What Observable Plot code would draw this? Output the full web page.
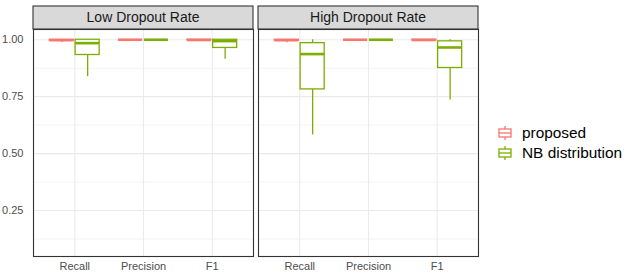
<!DOCTYPE html>
<html><head><meta charset="utf-8">
<script src="https://cdn.jsdelivr.net/npm/d3@7"></script>
<script src="https://cdn.jsdelivr.net/npm/@observablehq/plot@0.6"></script>
<style>
body{margin:0;background:#fff;font-family:"Liberation Sans",Arial,sans-serif;}
#wrap{position:relative;width:634px;height:278px;overflow:hidden;}
.leg{position:absolute;left:498px;height:18px;line-height:18px;display:flex;align-items:center;font-size:15.4px;color:#000;white-space:nowrap;}
.leg svg{margin-right:10px;}
</style></head><body><div id="wrap"></div>
<script>
const facets = ["Low Dropout Rate", "High Dropout Rate"];
const metrics = ["Recall", "Precision", "F1"];
const methods = ["proposed", "NB distribution"];
const colors = ["#F8766D", "#7CAE00"];
const yTicks = [0.25, 0.5, 0.75, 1.0];
const yMinor = [0.125, 0.375, 0.625, 0.875];
// order: facet x metric x method
const whiskerLow  = [0.988, 0.838, 1, 1, 0.996, 0.914,   0.987, 0.582, 1, 1, 0.995, 0.735];
const q1          = [0.996, 0.933, 1, 1, 0.998, 0.964,   0.996, 0.782, 1, 1, 0.997, 0.876];
const median      = [0.998, 0.985, 1, 1, 0.999, 0.994,   0.998, 0.937, 1, 1, 0.999, 0.966];
const q3          = [1.0,   1.0,   1, 1, 1.0,   1.0,     1.0,   0.985, 1, 1, 1.0,   0.993];
const whiskerHigh = [1.0,   1.0,   1, 1, 1.0,   1.0,     1.0,   1.0,   1, 1, 1.0,   1.0];

const rows = [];
let k = 0;
for (const f of facets) {
  metrics.forEach((m, i) => {
    methods.forEach((g, j) => {
      rows.push({facet: f, metric: m, method: g, pos: i + 1 + (j === 0 ? -0.1875 : 0.1875),
        lo: whiskerLow[k], q1: q1[k], med: median[k], q3: q3[k], hi: whiskerHigh[k]});
      k++;
    });
  });
}
const hw = 0.175;

const chart = Plot.plot({
  width: 634, height: 278,
  marginLeft: 33, marginRight: 155, marginTop: 29, marginBottom: 22,
  style: {fontFamily: '"Liberation Sans", Arial, sans-serif', background: "#fff"},
  fx: {domain: facets, paddingInner: 0.022, paddingOuter: 0, axis: null},
  x: {domain: [0.4, 3.6], ticks: [1, 2, 3], tickFormat: i => metrics[i - 1], tickSize: 0, tickPadding: 6, label: null},
  y: {domain: [0.048, 1.045], ticks: yTicks, tickFormat: ".2f", tickSize: 0, tickPadding: 10, label: null},
  color: {domain: methods, range: colors},
  marks: [
    Plot.ruleY(yMinor, {stroke: "#EBEBEB", strokeWidth: 0.6}),
    Plot.ruleY(yTicks, {stroke: "#EBEBEB", strokeWidth: 1.1}),
    Plot.ruleX([1, 2, 3], {stroke: "#EBEBEB", strokeWidth: 1.1}),
    Plot.ruleX(rows, {fx: "facet", x: "pos", y1: "lo", y2: "hi", stroke: "method", strokeWidth: 1.3}),
    Plot.rect(rows, {fx: "facet", x1: d => d.pos - hw, x2: d => d.pos + hw, y1: "q1", y2: "q3", fill: "white", stroke: "method", strokeWidth: 1.3}),
    Plot.ruleY(rows, {fx: "facet", y: "med", x1: d => d.pos - hw, x2: d => d.pos + hw, stroke: "method", strokeWidth: 2.6}),
    Plot.frame({stroke: "#333333", strokeWidth: 1.1}),
    Plot.axisX({fontSize: 11, color: "#4D4D4D", tickSize: 0, tickPadding: 6, ticks: [1,2,3], tickFormat: i => metrics[i - 1], label: null}),
    Plot.axisY({fontSize: 11, color: "#4D4D4D", tickSize: 0, tickPadding: 10, ticks: yTicks, tickFormat: ".2f", label: null})
  ]
});
document.getElementById("wrap").appendChild(chart);

// facet strips
const fxs = chart.scale("fx");
const bw = fxs.bandwidth;
const svg = d3.select(chart);
const g = svg.append("g");
for (const f of facets) {
  const x0 = fxs.apply(f);
  g.append("rect").attr("x", x0).attr("y", 6).attr("width", bw).attr("height", 23)
    .attr("fill", "#D9D9D9").attr("stroke", "#333333").attr("stroke-width", 1.1);
  g.append("text").attr("x", x0 + bw / 2).attr("y", 17.5).attr("dy", "0.35em")
    .attr("text-anchor", "middle").attr("font-size", 14).attr("fill", "#1A1A1A").text(f);
}

// legend
const wrap = document.getElementById("wrap");
methods.forEach((m, i) => {
  const div = document.createElement("div");
  div.className = "leg";
  div.style.top = (124 + i * 19.7) + "px";
  const c = colors[i];
  div.innerHTML = `<svg width="14" height="16"><line x1="7" x2="7" y1="1" y2="15" stroke="${c}" stroke-width="1.3"/><rect x="1" y="4" width="12" height="8" fill="white" stroke="${c}" stroke-width="1.3"/><line x1="1" x2="13" y1="8" y2="8" stroke="${c}" stroke-width="1.3"/></svg><span>${m}</span>`;
  wrap.appendChild(div);
});
</script></body></html>
